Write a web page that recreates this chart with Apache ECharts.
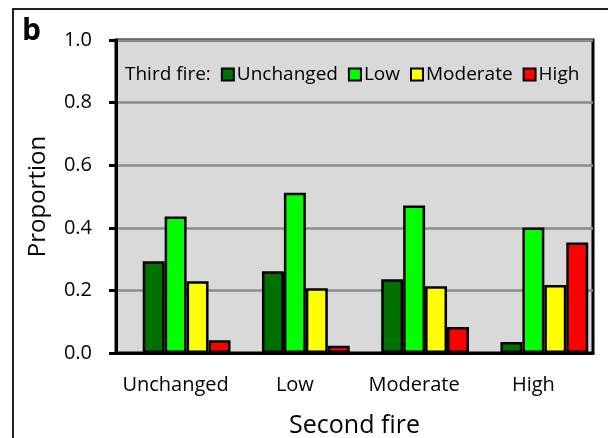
<!DOCTYPE html>
<html>
<head>
<meta charset="utf-8">
<script src="https://cdn.jsdelivr.net/npm/echarts@6/dist/echarts.min.js"></script>
<style>
  html, body { margin: 0; padding: 0; background: #fff; }
  #main { width: 608px; height: 438px; }
</style>
</head>
<body>
<div id="main"></div>
<script>
// second fire categories
var categories = ['Unchanged', 'Low', 'Moderate', 'High'];
// third fire proportions
var unchangedVals = [0.293, 0.261, 0.236, 0.035];
var lowVals = [0.436, 0.512, 0.471, 0.401];
var moderateVals = [0.229, 0.207, 0.213, 0.217];
var highVals = [0.041, 0.023, 0.083, 0.353];
var yTicks = [0, 0.2, 0.4, 0.6, 0.8, 1.0];

var font = 'Open Sans';
var chart = echarts.init(document.getElementById('main'));

function barSeries(name, color, vals) {
  return {
    name: name,
    type: 'bar',
    data: vals,
    barGap: '0%',
    barCategoryGap: '8%',
    itemStyle: { color: color, borderColor: '#000', borderWidth: 2.5 }
  };
}

var option = {
  animation: false,
  textStyle: { fontFamily: font },
  graphic: [
    // outer frame
    { type: 'rect', shape: { x: 13, y: 9, width: 620, height: 460 },
      style: { fill: 'none', stroke: '#222', lineWidth: 2 } },
    { type: 'text', left: 22, top: 16,
      style: { text: 'b', font: 'bold 30px "Open Sans"', fill: '#000' } }
  ],
  legend: {
    left: 105,
    top: 60,
    itemWidth: 12,
    itemHeight: 12,
    itemGap: 10,
    textStyle: { fontFamily: font, fontSize: 19, color: '#000', padding: [0, 0, 0, -2] },
    data: [
      { name: 'Third fire:', icon: 'none' },
      { name: 'Unchanged', icon: 'rect' },
      { name: 'Low', icon: 'rect' },
      { name: 'Moderate', icon: 'rect' },
      { name: 'High', icon: 'rect' }
    ]
  },
  grid: {
    left: 116, right: 15, top: 40, bottom: 85,
    outerBoundsMode: 'none',
    show: true,
    backgroundColor: '#d9d9d9',
    borderColor: '#000',
    borderWidth: 3
  },
  xAxis: {
    type: 'category',
    data: categories,
    name: 'Second fire',
    nameLocation: 'middle',
    nameGap: 60,
    nameTextStyle: { fontFamily: font, fontSize: 25, color: '#000' },
    axisLine: { lineStyle: { color: '#000', width: 3 } },
    axisTick: { show: false },
    axisLabel: { interval: 0, margin: 22, fontFamily: font, fontSize: 20, color: '#000' }
  },
  yAxis: {
    type: 'value',
    min: 0,
    max: 1,
    interval: 0.2,
    name: 'Proportion',
    nameLocation: 'middle',
    nameGap: 66,
    nameTextStyle: { fontFamily: font, fontSize: 24, color: '#000' },
    axisLine: { show: true, lineStyle: { color: '#000', width: 3 } },
    axisTick: { show: true, length: 7, lineStyle: { color: '#000', width: 3 } },
    splitLine: { lineStyle: { color: '#8c8c8c', width: 2.5 } },
    axisLabel: {
      margin: 24, fontFamily: font, fontSize: 20, color: '#000',
      formatter: function (v) { return yTicks.indexOf(v) >= 0 ? v.toFixed(1) : ''; }
    }
  },
  series: [
    // empty slot so the legend title sits first, as in the source chart
    { name: 'Third fire:', type: 'bar', data: [null, null, null, null], barGap: '0%', barCategoryGap: '8%',
      itemStyle: { color: 'transparent', borderWidth: 0 } },
    barSeries('Unchanged', '#007000', unchangedVals),
    barSeries('Low', '#00ff00', lowVals),
    barSeries('Moderate', '#ffff00', moderateVals),
    barSeries('High', '#ff0000', highVals)
  ]
};
chart.setOption(option);
</script>
</body>
</html>
